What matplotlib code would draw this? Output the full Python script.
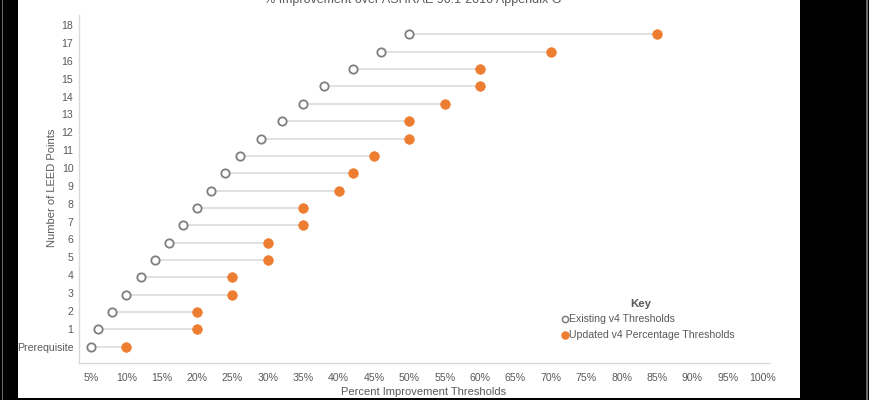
import matplotlib
matplotlib.use("Agg")
import matplotlib.pyplot as plt
import numpy as np
from matplotlib.patches import Rectangle

# ---- data ----
categories = ["Prerequisite", "1", "2", "3", "4", "5", "6", "7", "8", "9",
              "10", "11", "12", "13", "14", "15", "16", "17", "18"]
existing = [5, 6, 8, 10, 12, 14, 16, 18, 20, 22, 24, 26, 29, 32, 35, 38, 42, 46, 50]
updated = [10, 20, 20, 25, 25, 30, 30, 35, 35, 40, 42, 45, 50, 50, 55, 60, 60, 70, 85]
xticks = list(range(5, 101, 5))
xtick_labels = [f"{v}%" for v in xticks]
title = "% Improvement over ASHRAE 90.1-2010 Appendix G"
xlabel = "Percent Improvement Thresholds"
ylabel = "Number of LEED Points"
legend_title = "Key"
legend_labels = ["Existing v4 Thresholds", "Updated v4 Percentage Thresholds"]

W, H = 870, 400
plt.rcParams['font.family'] = ['Liberation Sans', 'DejaVu Sans']
TXT = "#595959"
GRAY = "#7f7f7f"
ORANGE = "#ED7D31"
LINE = "#D9D9D9"

fig = plt.figure(figsize=(W / 100, H / 100), dpi=100, facecolor="black")
# white canvas with black borders
fig.patches.append(Rectangle((18 / W, 2 / H), (800 - 18) / W, (400 - 2) / H,
                             transform=fig.transFigure, facecolor="white",
                             edgecolor="none", zorder=-5))
fig.patches.append(Rectangle((2 / W, 0), 1.2 / W, 1, transform=fig.transFigure,
                             facecolor="#6a6a6a", edgecolor="none", zorder=-5))
fig.patches.append(Rectangle((866 / W, 0), 2.5 / W, 1, transform=fig.transFigure,
                             facecolor="#6a6a6a", edgecolor="none", zorder=-5))

ax = fig.add_axes([79 / W, 1 - 363 / H, (769 - 79) / W, (363 - 15) / H])
ax.set_facecolor("none")

ypos = np.arange(len(categories))
ax.hlines(ypos, existing, updated, colors=LINE, linewidth=1.1, zorder=1)
ax.scatter(existing, ypos, s=36, facecolor="white", edgecolor=GRAY,
           linewidth=1.3, zorder=3)
ax.scatter(updated, ypos, s=48, facecolor=ORANGE, edgecolor=ORANGE,
           linewidth=0.5, zorder=3)

ax.set_xlim(3.30, 100.85)
ax.set_ylim(-0.94, 19.12)
ax.set_xticks(xticks)
ax.set_xticklabels(xtick_labels)
label_scale = 17.87 / 17.35
ax.set_yticks(ypos * label_scale)
ax.set_yticklabels(categories)
ax.tick_params(axis="both", length=0, labelsize=7.6, colors=TXT)
ax.tick_params(axis="x", pad=7)
ax.tick_params(axis="y", pad=4)

for s in ["top", "right"]:
    ax.spines[s].set_visible(False)
for s in ["left", "bottom"]:
    ax.spines[s].set_color(LINE)
    ax.spines[s].set_linewidth(1.0)

fig.text(424 / W, 1 - 392 / H, xlabel, ha="center", va="center",
         fontsize=8, color=TXT)
fig.text(52 / W, 1 - 188 / H, ylabel, ha="center", va="center",
         fontsize=8, color=TXT, rotation=90)
fig.text(413 / W, 1 - 3 / H, title, ha="center", va="baseline",
         fontsize=9, color=TXT)

# legend ("Key")
fig.text(641 / W, 1 - 304 / H, legend_title, ha="center", va="center",
         fontsize=8.2, color=TXT, fontweight="bold")
lx = fig.add_axes([0, 0, 1, 1], facecolor="none")
lx.set_xlim(0, W)
lx.set_ylim(H, 0)
lx.axis("off")
lx.scatter([565], [319], s=20, facecolor="white", edgecolor=GRAY, linewidth=1.1)
lx.scatter([565], [335], s=26, facecolor=ORANGE, edgecolor=ORANGE)
fig.text(569 / W, 1 - 319 / H, legend_labels[0], ha="left", va="center",
         fontsize=7.6, color=TXT)
fig.text(569 / W, 1 - 335 / H, legend_labels[1], ha="left", va="center",
         fontsize=7.6, color=TXT)

fig.savefig("out.png", dpi=100, facecolor="black")
